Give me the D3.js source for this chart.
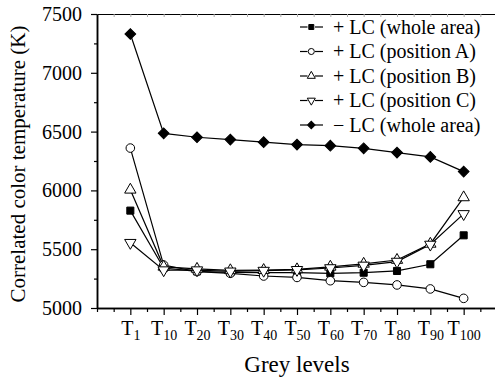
<!DOCTYPE html>
<html>
<head>
<meta charset="utf-8">
<script src="https://cdn.jsdelivr.net/npm/d3@7"></script>
<style>
  html, body { margin: 0; padding: 0; background: #fff; }
  svg { display: block; }
  svg text { font-family: "Liberation Serif", "Times New Roman", serif; }
</style>
</head>
<body>
<div id="chart"></div>
<script>
// grey levels on the x axis (subscripts of T)
const levels = ["1", "10", "20", "30", "40", "50", "60", "70", "80", "90", "100"];

// correlated color temperature (K)
const lcWhole = [5828, 5340, 5312, 5302, 5300, 5300, 5295, 5300, 5315, 5372, 5618];
const lcPosA  = [6360, 5365, 5310, 5295, 5272, 5260, 5232, 5218, 5196, 5162, 5082];
const lcPosB  = [6005, 5350, 5332, 5320, 5322, 5328, 5350, 5375, 5408, 5545, 5940];
const lcPosC  = [5555, 5322, 5322, 5312, 5318, 5325, 5340, 5362, 5395, 5540, 5800];
const noLc    = [7330, 6485, 6452, 6432, 6410, 6390, 6380, 6358, 6322, 6285, 6160];

const yMajor = [5000, 5500, 6000, 6500, 7000, 7500];
const yMinor = [5250, 5750, 6250, 6750, 7250];

const series = [
  { label: "+ LC (whole area)",   values: lcWhole, shape: "square" },
  { label: "+ LC (position A)",   values: lcPosA,  shape: "circle" },
  { label: "+ LC (position B)",   values: lcPosB,  shape: "triUp" },
  { label: "+ LC (position C)",   values: lcPosC,  shape: "triDown" },
  { label: "\u2212 LC (whole area)", values: noLc, shape: "diamond" }
];

const FONT = '"Liberation Serif", "Times New Roman", serif';
const W = 495, H = 380;
const svg = d3.select("#chart").append("svg")
  .attr("width", W).attr("height", H)
  .attr("font-family", FONT);

const x = d3.scaleLinear([-1, 11], [97, 497]);
const y = d3.scaleLinear([5000, 7500], [308, 14]);

// marker drawing
function marker(sel, shape, big) {
  const k = big ? 1 : 0.5;
  let path, rot = 0, fill = "#fff";
  if (shape === "square") { path = d3.symbol(d3.symbolSquare, 50 * k)(); fill = "#000"; }
  if (shape === "circle") { path = d3.symbol(d3.symbolCircle, 58 * k)(); }
  if (shape === "triUp") { path = d3.symbol(d3.symbolTriangle, 56 * k)(); }
  if (shape === "triDown") { path = d3.symbol(d3.symbolTriangle, 56 * k)(); rot = 180; }
  if (shape === "diamond") { path = d3.symbol(d3.symbolSquare, 58 * k)(); rot = 45; fill = "#000"; }
  sel.append("path")
    .attr("d", path)
    .attr("transform", `rotate(${rot})`)
    .attr("fill", fill)
    .attr("stroke", "#000")
    .attr("stroke-width", 1);
}

// top frame line with faint ticks
const topFrame = svg.append("g").attr("transform", `translate(0,${y(7500)})`)
  .call(d3.axisBottom(x).tickValues(d3.range(-1, 11.01, 0.5)).tickSize(3).tickSizeOuter(0).tickFormat(""));
topFrame.select(".domain").attr("stroke", "#000");
topFrame.selectAll(".tick line").attr("stroke", "#aaa");

// x axis
const xAxis = svg.append("g").attr("transform", `translate(0,${y(5000)})`);
xAxis.append("g").call(d3.axisBottom(x).tickValues(d3.range(-1, 11.01, 0.5).filter(v => !Number.isInteger(v) || v < 0 || v > 10))
  .tickSize(4).tickSizeOuter(0).tickFormat(""));
const xMaj = xAxis.append("g").call(d3.axisBottom(x).tickValues(d3.range(0, 11)).tickSize(7).tickSizeOuter(0).tickFormat(""));
xAxis.selectAll("g").attr("font-family", FONT);
xAxis.selectAll(".tick line").attr("stroke-width", 1.2);
xAxis.selectAll(".domain").attr("stroke-width", 1.5);
xMaj.selectAll(".tick text")
  .attr("font-size", 20).attr("fill", "#000").attr("y", 27).attr("dy", 0)
  .call(t => {
    t.append("tspan").text("T");
    t.append("tspan").attr("font-size", 14).attr("dy", 5).text(d => levels[d]);
  });

// y axis
const yAxis = svg.append("g").attr("transform", `translate(${x(-1)},0)`);
yAxis.append("g").call(d3.axisLeft(y).tickValues(yMinor).tickSize(3).tickSizeOuter(0).tickFormat(""));
yAxis.append("g").call(d3.axisLeft(y).tickValues(yMajor).tickSize(6).tickSizeOuter(0).tickFormat(d3.format("d")));
yAxis.selectAll("g").attr("font-family", FONT);
yAxis.selectAll(".domain").attr("stroke-width", 1.5);
yAxis.selectAll(".tick line").attr("stroke-width", 1.2);
yAxis.selectAll(".tick text").attr("font-size", 20).attr("fill", "#000").attr("x", -15);

// axis titles
svg.append("text")
  .attr("x", 297).attr("y", 372)
  .attr("text-anchor", "middle").attr("font-size", 23)
  .text("Grey levels");
svg.append("text")
  .attr("transform", `translate(25,${(y(5000) + y(7500)) / 2 + 3}) rotate(-90)`)
  .attr("text-anchor", "middle").attr("font-size", 21)
  .text("Correlated color temperature (K)");

// lines and markers
const line = d3.line().x((d, i) => x(i)).y(d => y(d));
const order = [4, 0, 1, 2, 3];
order.forEach(k => {
  svg.append("path")
    .attr("d", line(series[k].values))
    .attr("fill", "none").attr("stroke", "#000").attr("stroke-width", 1.2);
});
order.forEach(k => {
  const s = series[k];
  svg.append("g").selectAll("g")
    .data(s.values)
    .join("g")
    .attr("transform", (d, i) => `translate(${x(i)},${y(d)})`)
    .each(function() { marker(d3.select(this), s.shape, true); });
});

// legend
const legend = svg.append("g");
series.forEach((s, i) => {
  const cy = 27 + i * 24.5;
  const g = legend.append("g").attr("transform", `translate(0,${cy})`);
  g.append("line").attr("x1", 300).attr("x2", 307.5).attr("y1", 0).attr("y2", 0)
    .attr("stroke", "#000").attr("stroke-width", 1.2);
  g.append("line").attr("x1", 315).attr("x2", 323).attr("y1", 0).attr("y2", 0)
    .attr("stroke", "#000").attr("stroke-width", 1.2);
  const m = g.append("g").attr("transform", "translate(311.3,0)");
  marker(m, s.shape, false);
  g.append("text").attr("x", 333).attr("y", 6.5)
    .attr("font-size", 20).text(s.label);
});
</script>
</body>
</html>
